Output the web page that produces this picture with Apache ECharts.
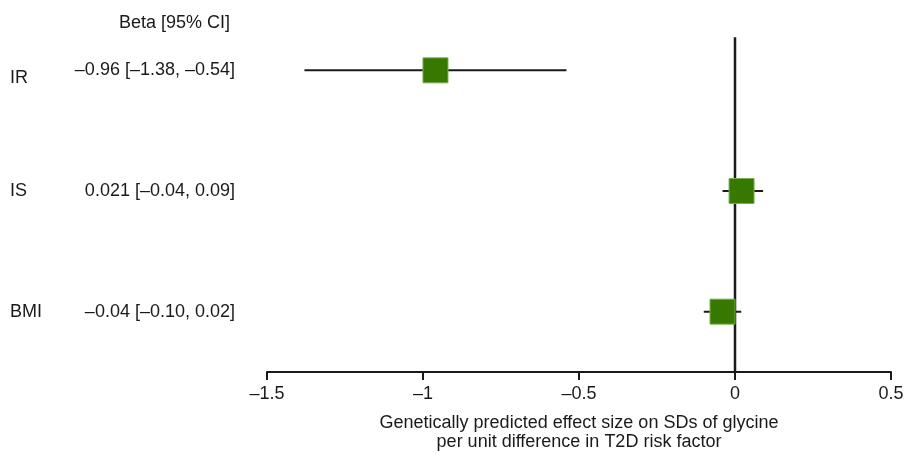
<!DOCTYPE html>
<html>
<head>
<meta charset="utf-8">
<script src="https://cdn.jsdelivr.net/npm/echarts@6/dist/echarts.min.js"></script>
<style>
  html, body { margin: 0; padding: 0; background: #fff; }
  #chart { width: 904px; height: 454px; }
</style>
</head>
<body>
<div id="chart"></div>
<script>
// forest plot data, top row first
const factors = ['IR', 'IS', 'BMI'];
const beta = [-0.96, 0.021, -0.04];
const lower = [-1.38, -0.04, -0.10];
const upper = [-0.54, 0.09, 0.02];
const estLabels = ['–0.96 [–1.38, –0.54]', '0.021 [–0.04, 0.09]', '–0.04 [–0.10, 0.02]'];
const xTicks = [-1.5, -1, -0.5, 0, 0.5];
const refX = 0;
const refTop = 3.275;

const font = 'Liberation Sans, Arial, sans-serif';
const ink = '#1a1a1a';

// row position on the hidden value axis (IR at the top)
const rowY = factors.map((f, i) => factors.length - i);

const myChart = echarts.init(document.getElementById('chart'));

const option = {
  animation: false,
  textStyle: { fontFamily: font },
  title: {
    text: 'Beta [95% CI]',
    right: 669,
    top: 9,
    textStyle: { fontFamily: font, fontSize: 18, fontWeight: 'normal', color: ink }
  },
  grid: { left: 267, right: 13, top: 10, bottom: 82, outerBoundsMode: 'none' },
  xAxis: {
    type: 'value',
    min: xTicks[0],
    max: xTicks[xTicks.length - 1],
    interval: 0.5,
    splitLine: { show: false },
    axisLine: { onZero: false, lineStyle: { color: ink, width: 2 } },
    axisTick: { length: 8, lineStyle: { color: ink, width: 2 } },
    axisLabel: {
      margin: 13,
      fontSize: 18,
      color: ink,
      fontFamily: font,
      formatter: v => String(v).replace('-', '–')
    },
    name: 'Genetically predicted effect size on SDs of glycine\nper unit difference in T2D risk factor',
    nameLocation: 'middle',
    nameGap: 42,
    nameTextStyle: { fontSize: 18, color: ink, fontFamily: font, lineHeight: 19, verticalAlign: 'top' }
  },
  yAxis: [
    {
      type: 'category',
      position: 'left',
      data: factors.slice().reverse(),
      axisLine: { show: false },
      axisTick: { show: false },
      splitLine: { show: false },
      axisLabel: {
        align: 'left',
        margin: 257,
        fontSize: 18,
        color: ink,
        fontFamily: font,
        formatter: v => (v === 'IR' ? '{low|' + v + '}' : v),
        rich: { low: { fontSize: 18, fontFamily: font, color: ink, padding: [15, 0, 0, 0] } }
      }
    },
    {
      type: 'category',
      position: 'left',
      data: estLabels.slice().reverse(),
      axisLine: { show: false },
      axisTick: { show: false },
      splitLine: { show: false },
      axisLabel: { align: 'right', margin: 32, fontSize: 18, color: ink, fontFamily: font }
    },
    {
      type: 'value',
      show: false,
      min: 0.5,
      max: factors.length + 0.5
    }
  ],
  series: [
    {
      type: 'line',
      yAxisIndex: 2,
      data: [[refX, 0.5], [refX, refTop]],
      symbol: 'none',
      lineStyle: { color: ink, width: 2.5 },
      z: 1
    },
    {
      type: 'custom',
      yAxisIndex: 2,
      data: factors.map((f, i) => [lower[i], upper[i], rowY[i]]),
      encode: { x: [0, 1], y: 2 },
      renderItem: (params, api) => {
        const a = api.coord([api.value(0), api.value(2)]);
        const b = api.coord([api.value(1), api.value(2)]);
        return {
          type: 'line',
          shape: { x1: a[0], y1: a[1], x2: b[0], y2: b[1] },
          style: { stroke: ink, lineWidth: 2 }
        };
      },
      z: 2
    },
    {
      type: 'scatter',
      yAxisIndex: 2,
      data: factors.map((f, i) => [beta[i], rowY[i]]),
      symbol: 'rect',
      symbolSize: 25,
      itemStyle: { color: '#367800', borderColor: '#78b050', borderWidth: 1, opacity: 1 },
      z: 3
    }
  ]
};

myChart.setOption(option, true);
</script>
</body>
</html>
